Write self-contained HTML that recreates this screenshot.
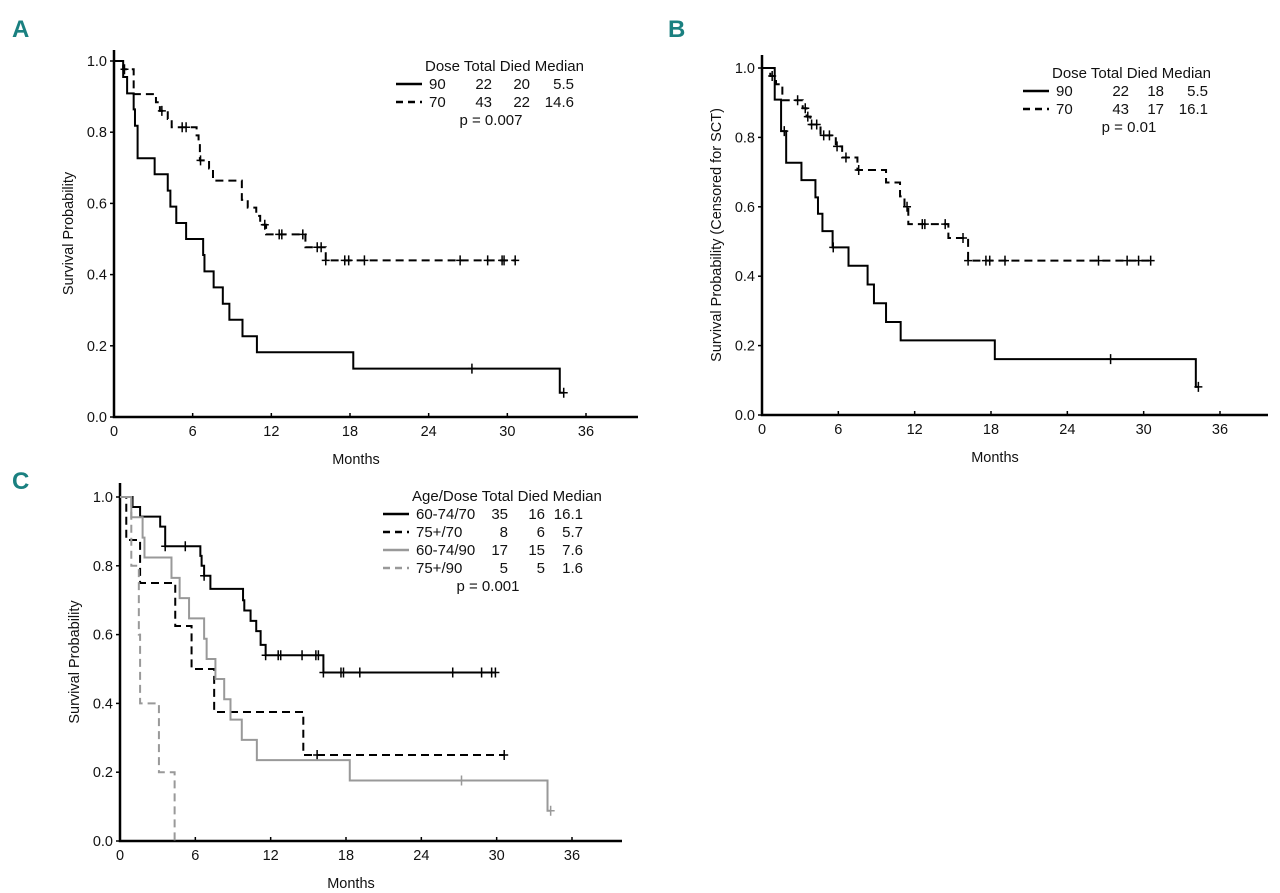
<!DOCTYPE html>
<html><head><meta charset="utf-8"><style>
html,body{margin:0;padding:0;background:#fff;}
svg{display:block;font-family:"Liberation Sans",sans-serif;}
.tk{font-size:14.5px;fill:#111;}
.lg{font-size:15px;fill:#111;}
.pl{font-size:24px;font-weight:bold;fill:#1a8080;font-family:"Liberation Sans Narrow","Liberation Sans",sans-serif;}
</style></head><body>
<svg id="fig" width="1280" height="893" viewBox="0 0 1280 893"></svg>
<script>
// ---- Panel A data ----
const a90Times=[0.7,1.0,1.5,1.6,1.8,3.1,4.1,4.3,4.75,5.5,6.8,6.9,7.6,8.3,8.8,9.8,10.9,18.25,34.0];
const a90Surv=[0.955,0.909,0.864,0.818,0.727,0.682,0.636,0.591,0.545,0.5,0.455,0.409,0.364,0.318,0.273,0.227,0.182,0.136,0.068];
const a90Cens=[27.3,34.3];
const a90End=34.3;
const a70Times=[0.7,1.5,3.2,3.5,4.1,4.4,6.3,6.45,6.55,7.25,7.55,9.75,10.2,10.85,11.15,11.6,14.6,16.15];
const a70Surv=[0.977,0.907,0.884,0.86,0.837,0.814,0.791,0.767,0.721,0.698,0.664,0.61,0.588,0.565,0.54,0.513,0.477,0.44];
const a70Cens=[0.8,3.65,5.2,5.5,6.6,11.5,12.6,12.8,14.4,15.5,15.8,16.15,17.6,17.9,19.1,26.4,28.5,29.6,29.75,30.6];
const a70End=30.6;
// ---- Panel B data ----
const b90Times=[1.0,1.5,1.9,3.1,4.2,4.4,4.75,5.55,6.8,8.3,8.8,9.75,10.9,18.3,34.1];
const b90Surv=[0.909,0.818,0.727,0.677,0.627,0.58,0.53,0.483,0.43,0.376,0.322,0.268,0.215,0.161,0.081];
const b90Cens=[1.75,5.6,27.4,34.3];
const b90End=34.3;
const b70Times=[0.65,1.1,1.6,3.2,3.5,3.8,4.6,5.8,6.3,7.5,9.75,10.85,11.2,11.5,14.65,16.2];
const b70Surv=[0.977,0.953,0.907,0.884,0.86,0.837,0.806,0.774,0.742,0.706,0.67,0.63,0.6,0.55,0.51,0.445];
const b70Cens=[0.8,2.8,3.4,3.6,3.9,4.3,4.85,5.3,5.9,6.6,7.6,11.4,12.6,12.8,14.4,15.8,16.2,17.6,17.9,19.1,26.45,28.7,29.6,30.55];
const b70End=30.55;
// ---- Panel C data ----
const c1Times=[1.0,1.6,3.2,3.6,6.4,6.5,6.7,7.2,9.8,9.9,10.4,10.85,11.2,11.6,16.2];
const c1Surv=[0.971,0.943,0.914,0.857,0.829,0.8,0.771,0.733,0.7,0.67,0.64,0.61,0.57,0.54,0.49];
const c1Cens=[3.6,5.2,6.7,11.6,12.6,12.8,14.5,15.6,15.8,16.2,17.6,17.8,19.1,26.5,28.8,29.6,29.9];
const c1End=29.9;
const c2Times=[0.5,1.6,4.4,5.7,7.5,14.6];
const c2Surv=[0.875,0.75,0.625,0.5,0.375,0.25];
const c2Cens=[15.7,30.6];
const c2End=30.6;
const c3Times=[0.9,1.8,1.95,4.1,4.75,5.5,6.7,6.9,7.6,8.3,8.8,9.7,10.9,18.3,34.05];
const c3Surv=[0.941,0.882,0.824,0.765,0.706,0.647,0.588,0.529,0.471,0.412,0.353,0.294,0.235,0.176,0.088];
const c3Cens=[27.2,34.3];
const c3End=34.3;
const c4Times=[0.9,1.5,1.6,3.1,4.35];
const c4Surv=[0.8,0.6,0.4,0.2,0.0];
const c4Cens=[];
const c4End=4.35;
// ---- ticks ----
const xTicks=[0,6,12,18,24,30,36];
const yTicks=[0.0,0.2,0.4,0.6,0.8,1.0];
const yTickLabels=["0.0","0.2","0.4","0.6","0.8","1.0"];

const NS="http://www.w3.org/2000/svg";
const svg=document.getElementById('fig');
function mk(tag,attrs,parent){const e=document.createElementNS(NS,tag);for(const k in attrs)e.setAttribute(k,attrs[k]);(parent||svg).appendChild(e);return e;}

function makePanel(p){
  const g=mk('g',{});
  
  
  const sx=m=>p.x0+(m/36)*(p.x36-p.x0);
  const sy=v=>p.y0-v*(p.y0-p.y1);
  const ax=mk('path',{d:`M${p.x0},${p.yTop} V${p.y0} H${p.xEnd}`,fill:'none',stroke:'#000','stroke-width':2.5},g);
  
  
  xTicks.forEach(t=>{
    mk('line',{x1:sx(t),x2:sx(t),y1:p.y0,y2:p.y0-4,stroke:'#000','stroke-width':1.5},g);
    const tx=mk('text',{x:sx(t),y:p.y0+19,'text-anchor':'middle',class:'tk'},g);
    tx.textContent=t;
    
    
  });
  yTicks.forEach((t,i)=>{
    mk('line',{x1:p.x0-4,x2:p.x0,y1:sy(t),y2:sy(t),stroke:'#000','stroke-width':1.5},g);
    const tx=mk('text',{x:p.x0-7,y:sy(t)+5,'text-anchor':'end',class:'tk'},g);
    tx.textContent=yTickLabels[i];
    
    
  });
  const xt=mk('text',{x:(p.x0+p.xEnd)/2-20,y:p.y0+47,'text-anchor':'middle',class:'tk'},g);
  xt.textContent='Months';
  
  
  const yx=p.x0-41, yy=(p.yTop+p.y0)/2;
  const yt=mk('text',{x:yx,y:yy,'text-anchor':'middle',class:'tk',transform:`rotate(-90 ${yx} ${yy})`},g);
  yt.textContent=p.ytitle;
  
  
  const lt=mk('text',{x:p.lx,y:p.ly,class:'pl'},g);
  lt.textContent=p.letter;
  
  
  p.series.forEach(s=>{
    let d=`M${sx(0)},${sy(1)}`;
    s.times.forEach((t,i)=>{d+=` H${sx(t)} V${sy(s.surv[i])}`;});
    d+=` H${sx(s.end)}`;
    const pa=mk('path',{d:d,fill:'none',stroke:s.color,'stroke-width':2,'stroke-dasharray':s.dash||'none'},g);
    
    
    s.cens.forEach(c=>{
      let v=1;s.times.forEach((t,i)=>{if(t<=c)v=s.surv[i];});
      const cx=sx(c),cy=sy(v);
      const cm=mk('path',{d:`M${cx-4},${cy} H${cx+4} M${cx},${cy-5} V${cy+5}`,stroke:s.color,'stroke-width':1.5,fill:'none'},g);
      
      
    });
  });
  const L=p.legend;
  const hd=mk('text',{x:L.x,y:L.y,class:'lg'},g);
  hd.textContent=L.header;
  
  
  L.rows.forEach((r,i)=>{
    const yy=L.y+18*(i+1);
    const s=p.series[i];
    const ln=mk('line',{x1:L.x-29,x2:L.x-3,y1:yy-5,y2:yy-5,stroke:s.color,'stroke-width':2.5,'stroke-dasharray':s.dash?'7,5':'none'},g);
    
    
    const cols=[[L.x+4,'start'],[L.c1,'end'],[L.c2,'end'],[L.c3,'end']];
    r.forEach((v,j)=>{
      const t=mk('text',{x:cols[j][0],y:yy,'text-anchor':cols[j][1],class:'lg'},g);
      t.textContent=v;
      
      
    });
  });
  const pt=mk('text',{x:L.px,y:L.y+18*(L.rows.length+1),'text-anchor':'middle',class:'lg'},g);
  pt.textContent=L.p;
  
  
}

makePanel({name:'panel-a',letter:'A',lx:12,ly:37,x0:114,x36:586,xEnd:638,y0:417,y1:61,yTop:50,ytitle:'Survival Probability',
  series:[{name:'dose-90',times:a90Times,surv:a90Surv,cens:a90Cens,end:a90End,color:'#000'},
          {name:'dose-70',times:a70Times,surv:a70Surv,cens:a70Cens,end:a70End,color:'#000',dash:'8,5'}],
  legend:{x:425,y:71,header:'Dose Total Died Median',c1:492,c2:530,c3:574,px:491,p:'p = 0.007',
    rows:[['90','22','20','5.5'],['70','43','22','14.6']]}});
makePanel({name:'panel-b',letter:'B',lx:668,ly:37,x0:762,x36:1220,xEnd:1268,y0:415,y1:68,yTop:55,ytitle:'Survival Probability (Censored for SCT)',
  series:[{name:'dose-90',times:b90Times,surv:b90Surv,cens:b90Cens,end:b90End,color:'#000'},
          {name:'dose-70',times:b70Times,surv:b70Surv,cens:b70Cens,end:b70End,color:'#000',dash:'8,5'}],
  legend:{x:1052,y:78,header:'Dose Total Died Median',c1:1129,c2:1164,c3:1208,px:1129,p:'p = 0.01',
    rows:[['90','22','18','5.5'],['70','43','17','16.1']]}});
makePanel({name:'panel-c',letter:'C',lx:12,ly:489,x0:120,x36:572,xEnd:622,y0:841,y1:497,yTop:483,ytitle:'Survival Probability',
  series:[{name:'age60-74-dose70',times:c1Times,surv:c1Surv,cens:c1Cens,end:c1End,color:'#000'},
          {name:'age75-dose70',times:c2Times,surv:c2Surv,cens:c2Cens,end:c2End,color:'#000',dash:'8,5'},
          {name:'age60-74-dose90',times:c3Times,surv:c3Surv,cens:c3Cens,end:c3End,color:'#999'},
          {name:'age75-dose90',times:c4Times,surv:c4Surv,cens:c4Cens,end:c4End,color:'#999',dash:'8,5'}],
  legend:{x:412,y:501,header:'Age/Dose Total Died Median',c1:508,c2:545,c3:583,px:488,p:'p = 0.001',
    rows:[['60-74/70','35','16','16.1'],['75+/70','8','6','5.7'],['60-74/90','17','15','7.6'],['75+/90','5','5','1.6']]}});
</script>
</body></html>
